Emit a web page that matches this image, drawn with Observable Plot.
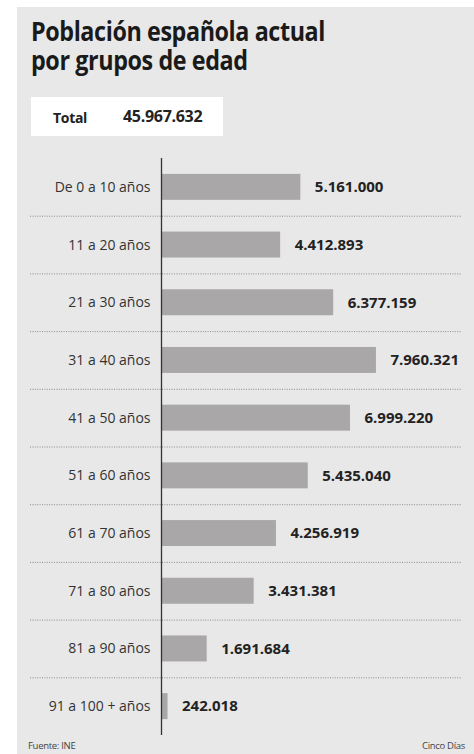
<!DOCTYPE html>
<html>
<head>
<meta charset="utf-8">
<script src="https://cdn.jsdelivr.net/npm/d3@7"></script>
<script src="https://cdn.jsdelivr.net/npm/@observablehq/plot@0.6"></script>
<style>
  html, body { margin: 0; padding: 0; background: #fff; }
  body { width: 474px; height: 754px; position: relative; overflow: hidden; font-family: "Open Sans", sans-serif; }
  #panel { position: absolute; left: 17px; top: 7px; width: 457px; height: 747px; background: #e8e8e8; }
  .title { position: absolute; left: 31px; margin: 0; font-size: 26.5px; line-height: 26px; height: 26px; font-weight: 700; color: #1a1a1a; letter-spacing: -0.45px; transform: scaleX(0.88); transform-origin: left center; white-space: nowrap; }
  #total { position: absolute; left: 31px; top: 97px; width: 192px; height: 39px; background: #fff; }
  #total .lab { position: absolute; left: 22px; top: 11px; font-size: 14px; font-weight: 700; color: #222; letter-spacing: -0.3px; }
  #total .val { position: absolute; left: 92px; top: 8px; font-size: 16px; font-weight: 700; color: #222; letter-spacing: -0.3px; }
  #chart { position: absolute; left: 0; top: 150px; }
  .foot { position: absolute; top: 739px; font-size: 9.5px; color: #444; letter-spacing: -0.3px; }
</style>
</head>
<body>
<div id="panel"></div>
<div class="title" style="top:18px">Población española actual</div>
<div class="title" style="top:47px">por grupos de edad</div>
<div id="total"><span class="lab">Total</span><span class="val" id="totalVal"></span></div>
<div id="chart"></div>
<div class="foot" style="left:28px">Fuente: INE</div>
<div class="foot" style="right:9px">Cinco Días</div>
<script>
const categories = ["De 0 a 10 años", "11 a 20 años", "21 a 30 años", "31 a 40 años", "41 a 50 años",
  "51 a 60 años", "61 a 70 años", "71 a 80 años", "81 a 90 años", "91 a 100 + años"];
const values = [5161000, 4412893, 6377159, 7960321, 6999220, 5435040, 4256919, 3431381, 1691684, 242018];
const totalLabel = "45.967.632";

document.getElementById("totalVal").textContent = totalLabel;

const fmt = v => d3.format(",")(v).replace(/,/g, ".");
const data = categories.map((c, i) => ({cat: c, value: values[i]}));

const W = 474, H = 600, mt = 8, mb = 15;
const halfStep = (H - mt - mb) / categories.length / 2;

const chart = Plot.plot({
  width: W,
  height: H,
  marginLeft: 161,
  marginRight: 43,
  marginTop: mt,
  marginBottom: mb,
  style: {background: "transparent", fontFamily: "Open Sans", color: "#333", overflow: "visible"},
  x: {domain: [0, 10000000], axis: null},
  y: {domain: categories, paddingInner: 0.55, paddingOuter: 0.275, round: false, label: null},
  marks: [
    Plot.ruleY(categories.slice(0, -1), {y: d => d, dy: halfStep, insetLeft: -131, insetRight: -31,
      stroke: "#8a8a8a", strokeWidth: 1, strokeDasharray: "1,1.4"}),
    Plot.barX(data, {y: "cat", x: "value", fill: "#a9a7a7"}),
    Plot.ruleX([0], {stroke: "#333", strokeWidth: 1.3}),
    Plot.axisY({tickSize: 0, tickPadding: 11, fontSize: 14, fill: "#333", label: null, style: {letterSpacing: "-0.5px"}}),
    Plot.text(data, {y: "cat", x: "value", text: d => fmt(d.value), dx: 14, textAnchor: "start",
      fontSize: 15, fontWeight: "bold", fill: "#222", style: {letterSpacing: "-0.3px"}})
  ]
});
document.getElementById("chart").appendChild(chart);
</script>
</body>
</html>
